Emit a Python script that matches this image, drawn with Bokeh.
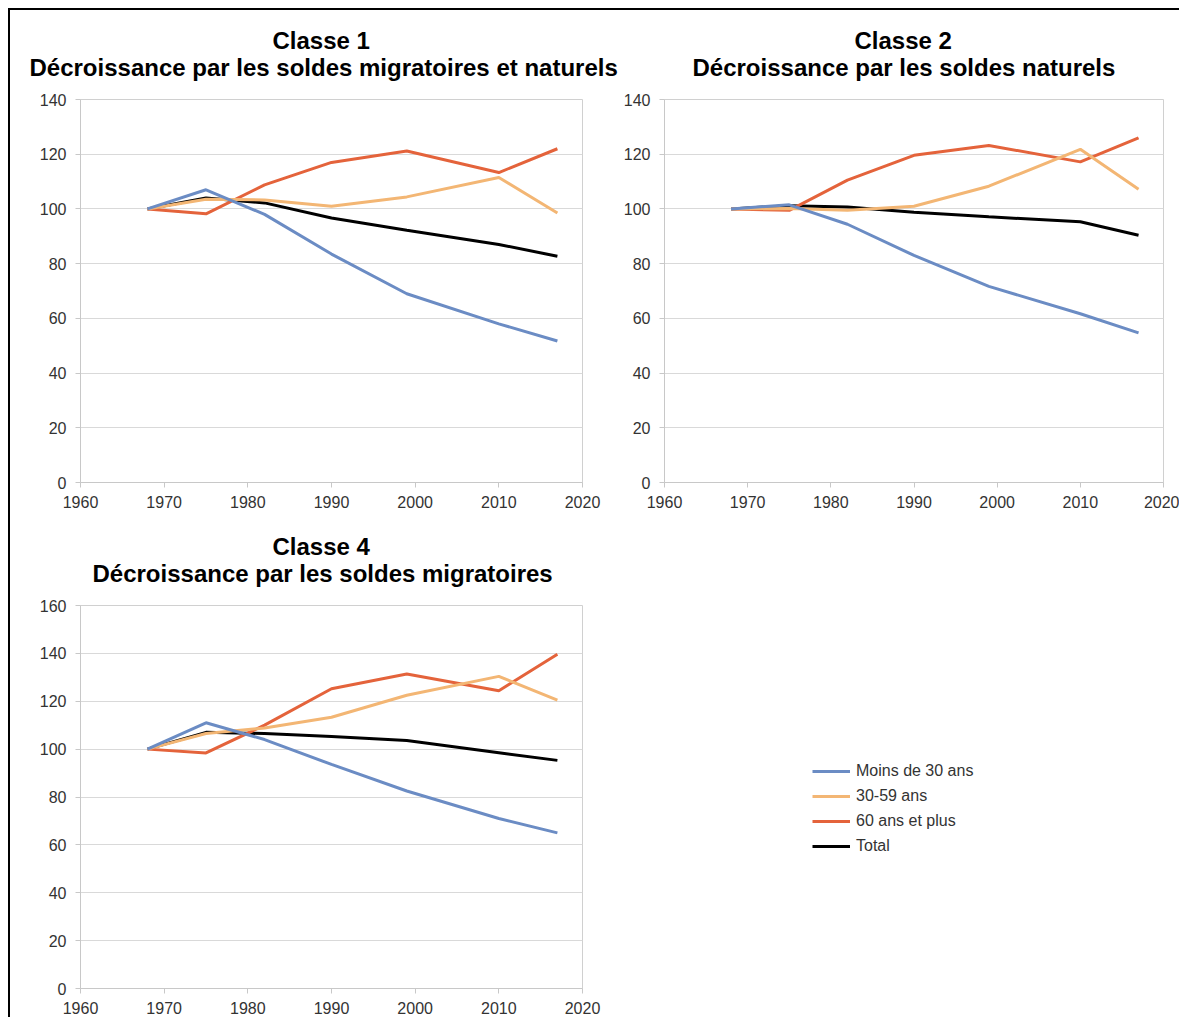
from bokeh.plotting import figure
from bokeh.layouts import column, row
from bokeh.models import Title, Legend, LegendItem, Range1d, FixedTicker
from bokeh.embed import file_html
from bokeh.resources import INLINE

years = [1968, 1975, 1982, 1990, 1999, 2010, 2017]
labels = ["Moins de 30 ans", "30-59 ans", "60 ans et plus", "Total"]
colors = ["#6b8cc4", "#f3b674", "#e4633b", "#000000"]

# Classe 1
c1_moins30 = [100, 107.0, 98.0, 83.5, 69.0, 58.0, 51.7]
c1_30_59 = [100, 103.5, 103.3, 101.0, 104.4, 111.5, 98.5]
c1_60plus = [100, 98.2, 108.8, 117.0, 121.2, 113.3, 122.0]
c1_total = [100, 104.0, 102.2, 96.7, 92.2, 87.0, 82.7]

# Classe 2
c2_moins30 = [100, 101.5, 94.4, 83.0, 71.7, 61.7, 54.7]
c2_30_59 = [100, 100.2, 99.5, 101.0, 108.3, 121.8, 107.2]
c2_60plus = [100, 99.5, 110.5, 119.6, 123.2, 117.2, 126.0]
c2_total = [100, 101.2, 100.7, 98.8, 97.1, 95.3, 90.4]

# Classe 4
c4_moins30 = [100, 111.0, 104.0, 93.6, 82.5, 71.0, 65.0]
c4_30_59 = [100, 106.5, 108.8, 113.3, 122.5, 130.4, 120.5]
c4_60plus = [100, 98.4, 110.0, 125.2, 131.4, 124.4, 139.6]
c4_total = [100, 107.0, 106.5, 105.3, 103.6, 98.5, 95.3]

x_ticks = [1960, 1970, 1980, 1990, 2000, 2010, 2020]
FONT = "Liberation Sans"


def make_panel(title1, title2, off1, off2, series, ymax, width, height, bl, br, bt, bb):
    p = figure(width=width, height=height, x_range=Range1d(1960, 2020),
               y_range=Range1d(0, ymax), output_backend="svg",
               toolbar_location=None, title=None,
               min_border_left=bl, min_border_right=br,
               min_border_top=bt, min_border_bottom=bb)
    # spacer between the frame and the title lines
    p.add_layout(Title(text=" ", text_font_size="1px", standoff=14), "above")
    p.add_layout(Title(text=title2, align="left", text_font=FONT,
                       text_font_size="24px", text_font_style="bold",
                       text_color="#000000", standoff=0, offset=off2,
                       vertical_align="top"), "above")
    p.add_layout(Title(text=title1, align="left", text_font=FONT,
                       text_font_size="24px", text_font_style="bold",
                       text_color="#000000", standoff=0, offset=off1), "above")
    p.xaxis.ticker = FixedTicker(ticks=x_ticks)
    p.yaxis.ticker = FixedTicker(ticks=list(range(0, ymax + 1, 20)))
    for ax in (p.xaxis, p.yaxis):
        ax.axis_line_color = "#c8c8c8"
        ax.major_tick_line_color = "#c8c8c8"
        ax.major_tick_out = 5
        ax.major_tick_in = 0
        ax.minor_tick_line_color = None
        ax.major_label_text_font = FONT
        ax.major_label_text_font_size = "16px"
        ax.major_label_text_color = "#333333"
    p.xaxis.major_label_standoff = 8
    p.yaxis.major_label_standoff = 9
    p.xgrid.grid_line_color = None
    p.ygrid.grid_line_color = "#d9d9d9"
    p.outline_line_color = "#d0d0d0"
    p.background_fill_color = "white"
    p.border_fill_color = "white"
    # draw order: total first, under age groups
    for idx in [3, 2, 1, 0]:
        p.line(years, series[idx], line_color=colors[idx], line_width=3)
    return p


p1 = make_panel("Classe 1", "Décroissance par les soldes migratoires et naturels", 192, -51,
                [c1_moins30, c1_30_59, c1_60plus, c1_total], 140,
                610, 510, 70, 38, 89, 38)
p2 = make_panel("Classe 2", "Décroissance par les soldes naturels", 190, 28,
                [c2_moins30, c2_30_59, c2_60plus, c2_total], 140,
                559, 510, 40, 16, 89, 38)
p3 = make_panel("Classe 4", "Décroissance par les soldes migratoires", 192, 12,
                [c4_moins30, c4_30_59, c4_60plus, c4_total], 160,
                610, 497, 70, 38, 85, 29)

nan = float("nan")
p4 = figure(width=559, height=497, x_range=Range1d(0, 1), y_range=Range1d(0, 1),
            output_backend="svg", toolbar_location=None,
            x_axis_location=None, y_axis_location=None,
            min_border_left=0, min_border_right=0, min_border_top=0, min_border_bottom=0)
p4.xgrid.grid_line_color = None
p4.ygrid.grid_line_color = None
p4.outline_line_color = None
items = []
for lab, col in zip(labels, colors):
    r = p4.line([nan], [nan], line_color=col, line_width=3)
    items.append(LegendItem(label=lab, renderers=[r]))
legend = Legend(items=items, location=(192, 131), glyph_width=38, glyph_height=22,
                label_height=22, spacing=3, padding=0, margin=0, label_standoff=6,
                label_text_font=FONT, label_text_font_size="16px",
                label_text_color="#333333", border_line_color=None,
                background_fill_alpha=0)
p4.add_layout(legend)

layout = column(row(p1, p2), row(p3, p4), margin=(8, 0, 0, 8),
                styles={"border-top": "2px solid black", "border-left": "2px solid black"})

open("out.html", "w").write(file_html(layout, INLINE))
